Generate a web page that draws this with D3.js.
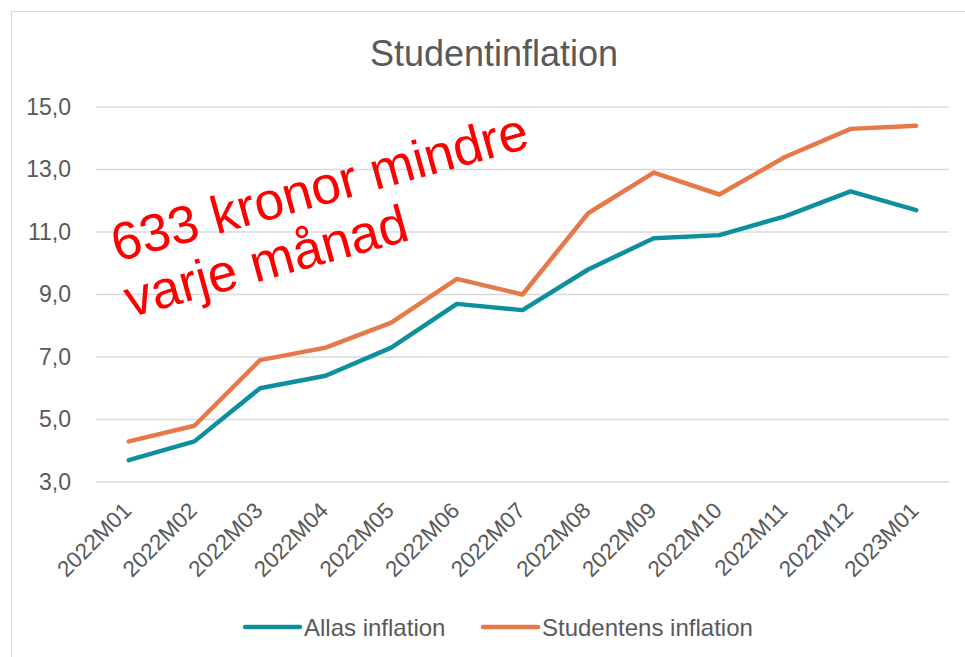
<!DOCTYPE html>
<html>
<head>
<meta charset="utf-8">
<script src="https://cdn.jsdelivr.net/npm/d3@7"></script>
<style>
  body { margin: 0; background: #fff; }
  text { font-family: Arial, "Liberation Sans", sans-serif; }
</style>
</head>
<body>
<script>
var months = ['2022M01', '2022M02', '2022M03', '2022M04', '2022M05', '2022M06', '2022M07',
    '2022M08', '2022M09', '2022M10', '2022M11', '2022M12', '2023M01'];
var allas = [3.7, 4.3, 6.0, 6.4, 7.3, 8.7, 8.5, 9.8, 10.8, 10.9, 11.5, 12.3, 11.7];
var studentens = [4.3, 4.8, 6.9, 7.3, 8.1, 9.5, 9.0, 11.6, 12.9, 12.2, 13.4, 14.3, 14.4];
var yTicks = [3, 5, 7, 9, 11, 13, 15];
var seriesNames = ['Allas inflation', 'Studentens inflation'];
var seriesColors = ['#0E8F9E', '#E5794A'];

var width = 965, height = 657;
var margin = { left: 96, right: 16, top: 107, bottom: 175 };

var svg = d3.select('body').append('svg')
    .attr('width', width)
    .attr('height', height);

// chart frame
svg.append('rect')
    .attr('x', 11.5).attr('y', 11.5)
    .attr('width', width).attr('height', height)
    .attr('fill', 'none')
    .attr('stroke', '#D9D9D9')
    .attr('stroke-width', 1);

var x = d3.scaleBand()
    .domain(months)
    .range([margin.left, width - margin.right]);

var y = d3.scaleLinear()
    .domain([3, 15])
    .range([height - margin.bottom, margin.top]);

// gridlines
svg.append('g')
    .selectAll('line')
    .data(yTicks)
    .enter().append('line')
    .attr('x1', margin.left)
    .attr('x2', width - margin.right)
    .attr('y1', function (d) { return y(d); })
    .attr('y2', function (d) { return y(d); })
    .attr('stroke', '#D9D9D9')
    .attr('stroke-width', 1.5);

// y axis labels
var yAxis = svg.append('g')
    .attr('transform', 'translate(' + (margin.left - 22) + ',0)')
    .call(d3.axisLeft(y).tickValues(yTicks).tickSize(0)
        .tickFormat(function (d) { return d3.format('.1f')(d).replace('.', ','); }));
yAxis.select('.domain').remove();
yAxis.selectAll('text')
    .attr('font-size', '23px')
    .attr('fill', '#595959')
    .attr('font-family', 'Arial, "Liberation Sans", sans-serif');

// x axis labels
var xAxis = svg.append('g')
    .attr('transform', 'translate(0,' + (height - margin.bottom) + ')')
    .call(d3.axisBottom(x).tickSize(0));
xAxis.select('.domain').remove();
xAxis.selectAll('text')
    .attr('font-size', '22.5px')
    .attr('fill', '#595959')
    .attr('font-family', 'Arial, "Liberation Sans", sans-serif')
    .attr('text-anchor', 'end')
    .attr('dy', null)
    .attr('y', 0)
    .attr('transform', 'translate(4,30) rotate(-45)');

// lines
var line = d3.line()
    .x(function (d, i) { return x(months[i]) + x.bandwidth() / 2; })
    .y(function (d) { return y(d); });

[allas, studentens].forEach(function (s, k) {
    svg.append('path')
        .datum(s)
        .attr('d', line)
        .attr('fill', 'none')
        .attr('stroke', seriesColors[k])
        .attr('stroke-width', 4.5)
        .attr('stroke-linejoin', 'round')
        .attr('stroke-linecap', 'round');
});

// title
svg.append('text')
    .attr('x', 494).attr('y', 66)
    .attr('text-anchor', 'middle')
    .attr('font-size', '36px')
    .attr('fill', '#595959')
    .text('Studentinflation');

// legend
var legendX = [245, 483];
seriesNames.forEach(function (name, k) {
    var g = svg.append('g').attr('transform', 'translate(' + legendX[k] + ',627)');
    g.append('line')
        .attr('x1', 0).attr('x2', 55)
        .attr('stroke', seriesColors[k])
        .attr('stroke-width', 4.5)
        .attr('stroke-linecap', 'round');
    g.append('text')
        .attr('x', 59).attr('y', 8.5)
        .attr('font-size', '24px')
        .attr('fill', '#595959')
        .text(name);
});

// annotation
var note = svg.append('text')
    .attr('transform', 'translate(117,262) rotate(-15.5)')
    .attr('font-size', '53px')
    .attr('fill', '#FF0000');
note.append('tspan').attr('x', 0).attr('y', 0).text('633 kronor mindre');
note.append('tspan').attr('x', 0).attr('dx', -2).attr('y', 57).text('varje månad');
</script>
</body>
</html>
